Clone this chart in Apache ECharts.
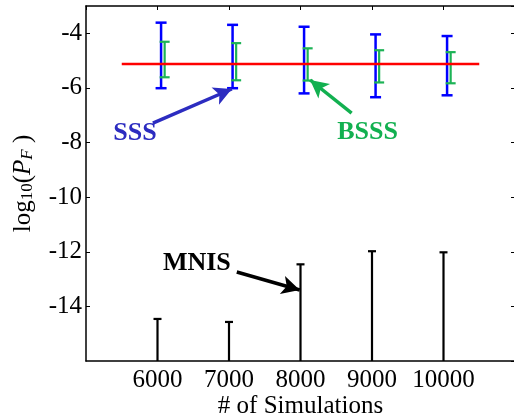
<!DOCTYPE html>
<html>
<head>
<meta charset="utf-8">
<script src="https://cdn.jsdelivr.net/npm/echarts@6/dist/echarts.min.js"></script>
<style>
  html, body { margin: 0; padding: 0; background: #fff; }
  #chart { width: 514px; height: 415px; }
</style>
</head>
<body>
<div id="chart"></div>
<script>
// number of simulations
var simulations = [6000, 7000, 8000, 9000, 10000];
// SSS error bars (log10 PF)
var sssHigh = [-3.61, -3.69, -3.76, -4.04, -4.10];
var sssLow = [-6.01, -6.01, -6.20, -6.34, -6.27];
// BSSS error bars
var bsssHigh = [-4.31, -4.36, -4.55, -4.62, -4.69];
var bsssLow = [-5.61, -5.72, -5.73, -5.80, -5.83];
// MNIS estimates (stems from the bottom)
var mnis = [-14.46, -14.57, -12.46, -11.98, -12.02];
// reference value
var refX = [5500, 10500];
var refY = -5.12;
// bars are drawn slightly to the right of each tick
var sssShift = 50;
var bsssShift = 100;
// annotation labels and arrows [x, y]
var sssLabel = [5684, -7.65];
var sssArrow = [[5936, -7.29], [7039, -6.04]];
var bsssLabel = [8939, -7.62];
var bsssArrow = [[8715, -6.92], [8135, -5.71]];
var mnisLabel = [6550, -12.41];
var mnisArrow = [[7109, -12.74], [7989, -13.40]];

var yMin = -16, yMax = -3;
var serif = 'Liberation Serif, DejaVu Serif, serif';

function errorBars(xs, shift, lows, highs) {
  return xs.map(function (x, i) { return [x + shift, lows[i], highs[i]]; });
}

function barRender(color, width, cap) {
  return function (params, api) {
    var lo = api.coord([api.value(0), api.value(1)]);
    var hi = api.coord([api.value(0), api.value(2)]);
    var st = { stroke: color, lineWidth: width };
    return {
      type: 'group',
      children: [
        { type: 'line', shape: { x1: lo[0], y1: lo[1], x2: hi[0], y2: hi[1] }, style: st },
        { type: 'line', shape: { x1: lo[0] - cap, y1: lo[1], x2: lo[0] + cap, y2: lo[1] }, style: st },
        { type: 'line', shape: { x1: hi[0] - cap, y1: hi[1], x2: hi[0] + cap, y2: hi[1] }, style: st }
      ]
    };
  };
}

function stemRender(params, api) {
  var base = api.coord([api.value(0), yMin]);
  var top = api.coord([api.value(0), api.value(1)]);
  var st = { stroke: '#000', lineWidth: 2.2 };
  return {
    type: 'group',
    children: [
      { type: 'line', shape: { x1: base[0], y1: base[1], x2: top[0], y2: top[1] }, style: st },
      { type: 'line', shape: { x1: top[0] - 4, y1: top[1], x2: top[0] + 4, y2: top[1] }, style: st }
    ]
  };
}

function arrow(points, color) {
  return {
    silent: true,
    symbol: ['none', 'arrow'],
    symbolSize: [14, 18],
    label: { show: false },
    lineStyle: { color: color, width: 3.5, type: 'solid', opacity: 1 },
    data: [[{ coord: points[0] }, { coord: points[1] }]]
  };
}

function textLabel(pos, text, color) {
  return {
    type: 'scatter',
    data: [pos],
    symbolSize: 0,
    silent: true,
    z: 10,
    itemStyle: { color: color, opacity: 1 },
    label: {
      show: true,
      position: 'inside',
      formatter: text,
      color: color,
      opacity: 1,
      textBorderWidth: 0,
      textBorderColor: 'transparent',
      fontFamily: serif,
      fontWeight: 'bold',
      fontSize: 26
    }
  };
}

var chart = echarts.init(document.getElementById('chart'));

var axisLine = { show: true, onZero: false, lineStyle: { color: '#000', width: 1.5 } };
var tick = { show: true, inside: true, length: 4, lineStyle: { color: '#000', width: 1 } };
var plain = function (v) { return String(v); };

chart.setOption({
  animation: false,
  backgroundColor: '#fff',
  grid: { left: 86, top: 6, width: 429, height: 355, outerBoundsMode: 'none', containLabel: false },
  xAxis: [
    {
      type: 'value', min: 5000, max: 11000, interval: 1000,
      name: '# of Simulations', nameLocation: 'middle', nameGap: 33, nameMoveOverlap: false,
      nameTextStyle: { fontFamily: serif, fontSize: 25, color: '#000' },
      axisLine: axisLine, axisTick: tick, splitLine: { show: false },
      axisLabel: { showMinLabel: false, showMaxLabel: false, margin: 7, formatter: plain, fontFamily: serif, fontSize: 25, color: '#000' }
    },
    {
      type: 'value', position: 'top', min: 5000, max: 11000, interval: 1000,
      axisLine: axisLine, axisTick: tick, splitLine: { show: false }, axisLabel: { show: false }
    }
  ],
  yAxis: [
    {
      type: 'value', min: yMin, max: yMax, interval: 2,
      name: 'log{sub|10}({it|P}{subit|F} )', nameLocation: 'middle', nameGap: 50, nameMoveOverlap: false,
      nameTextStyle: {
        fontFamily: serif, fontSize: 25, color: '#000',
        rich: {
          sub: { fontFamily: serif, fontSize: 17, color: '#000', verticalAlign: 'bottom', padding: [9, 0, 0, 0] },
          it: { fontFamily: serif, fontSize: 25, fontStyle: 'italic', color: '#000' },
          subit: { fontFamily: serif, fontSize: 17, fontStyle: 'italic', color: '#000', verticalAlign: 'bottom', padding: [9, 0, 0, 0] }
        }
      },
      axisLine: axisLine, axisTick: tick, splitLine: { show: false },
      axisLabel: { showMinLabel: false, showMaxLabel: false, margin: 4, formatter: plain, fontFamily: serif, fontSize: 25, color: '#000' }
    },
    {
      type: 'value', position: 'right', min: yMin, max: yMax, interval: 2,
      axisLine: axisLine, axisTick: tick, splitLine: { show: false }, axisLabel: { show: false }
    }
  ],
  series: [
    {
      name: 'SSS', type: 'custom', renderItem: barRender('#0000ff', 2.5, 5.5),
      data: errorBars(simulations, sssShift, sssLow, sssHigh), z: 2
    },
    {
      name: 'BSSS', type: 'custom', renderItem: barRender('#1db356', 2.2, 5),
      data: errorBars(simulations, bsssShift, bsssLow, bsssHigh), z: 3
    },
    {
      name: 'ref', type: 'line', symbol: 'none', z: 4,
      data: refX.map(function (x) { return [x, refY]; }),
      lineStyle: { color: '#ff0000', width: 2.5 }
    },
    {
      name: 'MNIS', type: 'custom', renderItem: stemRender, z: 2,
      data: simulations.map(function (x, i) { return [x, mnis[i]]; })
    },
    {
      type: 'line', data: [], markLine: arrow(sssArrow, '#2c2cc0')
    },
    {
      type: 'line', data: [], markLine: arrow(bsssArrow, '#12b050')
    },
    {
      type: 'line', data: [], markLine: arrow(mnisArrow, '#000')
    },
    textLabel(sssLabel, 'SSS', '#2c2cc0'),
    textLabel(bsssLabel, 'BSSS', '#12b050'),
    textLabel(mnisLabel, 'MNIS', '#000')
  ]
});
</script>
</body>
</html>
